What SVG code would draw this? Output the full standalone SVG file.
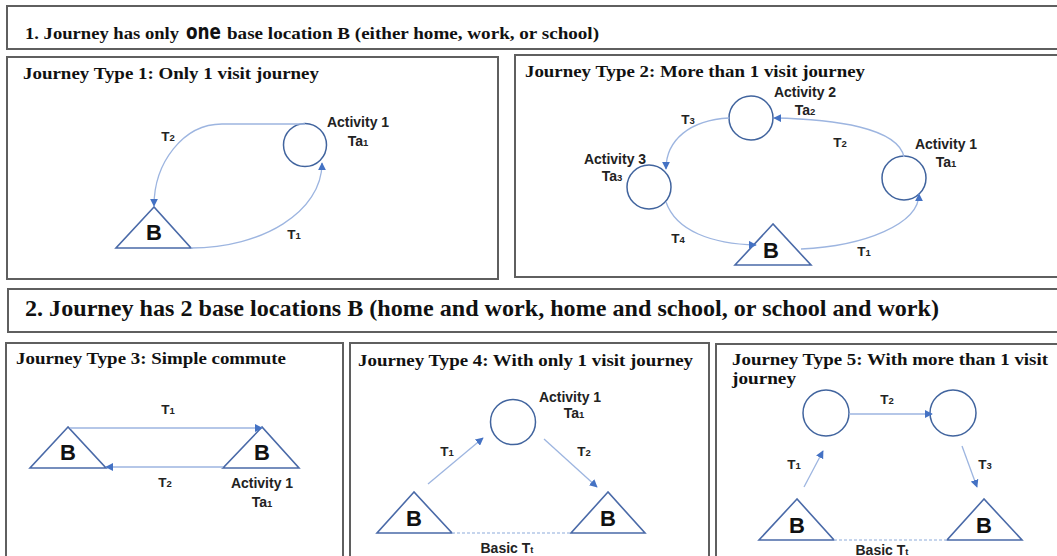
<svg xmlns="http://www.w3.org/2000/svg" width="1057" height="556" viewBox="0 0 1057 556">
  <style>
    .frame { fill: #ffffff; stroke: #5f5f5f; stroke-width: 2; }
    .title { font-family: "Liberation Serif", "Times New Roman", serif; font-weight: bold; fill: #111; }
    .lbl { font-family: "Liberation Sans", Arial, sans-serif; font-weight: bold; font-size: 13.5px; fill: #222; text-anchor: middle; }
    .act-lbl { font-size: 14px; }
    .sub { font-size: 9.5px; }
    .big { font-family: "Liberation Sans", Arial, sans-serif; font-weight: bold; font-size: 22px; fill: #111; text-anchor: middle; }
    .tri { fill: #ffffff; stroke: #4a6aa8; stroke-width: 1.6; }
    .act { fill: #ffffff; stroke: #41649e; stroke-width: 1.5; }
    .link { fill: none; stroke: #9db5e0; stroke-width: 1.3; marker-end: url(#ah); }
    .basic { fill: none; stroke: #b4c7e7; stroke-width: 1.3; stroke-dasharray: 3 2; }
  </style>
  <defs>
    <marker id="ah" viewBox="0 0 10 10" refX="9" refY="5" markerWidth="8" markerHeight="8" markerUnits="userSpaceOnUse" orient="auto">
      <path d="M0,0 L10,5 L0,10 z" fill="#4472c4"/>
    </marker>
  </defs>
  <rect width="1057" height="556" fill="#ffffff"/>

  <!-- Section 1 heading -->
  <g id="heading-1">
    <rect class="frame" x="7" y="6" width="1060" height="43"/>
    <text class="title" x="25" y="39" font-size="17" textLength="154" lengthAdjust="spacingAndGlyphs">1. Journey has only</text>
    <text x="186" y="39" font-family="'DejaVu Sans', sans-serif" font-weight="bold" font-size="21" fill="#111" textLength="35" lengthAdjust="spacingAndGlyphs">one</text>
    <text class="title" x="227" y="39" font-size="17" textLength="372" lengthAdjust="spacingAndGlyphs">base location B (either home, work, or school)</text>
  </g>

  <!-- Journey type 1 -->
  <g id="type-1">
    <rect class="frame" x="7" y="57" width="491" height="222"/>
    <text class="title" x="23" y="79" font-size="17" textLength="296" lengthAdjust="spacingAndGlyphs">Journey Type 1: Only 1 visit journey</text>
  </g>
  <g id="t1-base">
    <polygon class="tri" points="154,207 116,248 191,248"/>
    <text class="big" x="154" y="240">B</text>
  </g>
  <g id="t1-activity1">
    <circle class="act" cx="305" cy="145" r="21.5"/>
    <text class="lbl act-lbl" x="358" y="127">Activity 1</text>
    <text class="lbl act-lbl" x="358" y="146">Ta<tspan class="sub">1</tspan></text>
  </g>

  <!-- Journey type 2 -->
  <g id="type-2">
    <rect class="frame" x="515" y="55" width="560" height="222"/>
    <text class="title" x="525" y="77" font-size="17" textLength="340" lengthAdjust="spacingAndGlyphs">Journey Type 2: More than 1 visit journey</text>
  </g>
  <g id="t2-base">
    <polygon class="tri" points="773,224 735,265 811,265"/>
    <text class="big" x="771" y="258">B</text>
  </g>
  <g id="t2-activity1">
    <circle class="act" cx="904" cy="178" r="22"/>
    <text class="lbl act-lbl" x="946" y="149">Activity 1</text>
    <text class="lbl act-lbl" x="946" y="167">Ta<tspan class="sub">1</tspan></text>
  </g>
  <g id="t2-activity2">
    <circle class="act" cx="751" cy="118" r="22"/>
    <text class="lbl act-lbl" x="805" y="97">Activity 2</text>
    <text class="lbl act-lbl" x="805" y="115">Ta<tspan class="sub">2</tspan></text>
  </g>
  <g id="t2-activity3">
    <circle class="act" cx="649" cy="187" r="22"/>
    <text class="lbl act-lbl" x="615" y="164">Activity 3</text>
    <text class="lbl act-lbl" x="612" y="181">Ta<tspan class="sub">3</tspan></text>
  </g>

  <!-- Section 2 heading -->
  <g id="heading-2">
    <rect class="frame" x="8" y="289" width="1060" height="43"/>
    <text class="title" x="25" y="316" font-size="24" textLength="914" lengthAdjust="spacingAndGlyphs">2. Journey has 2 base locations B (home and work, home and school, or school and work)</text>
  </g>

  <!-- Journey type 3 -->
  <g id="type-3">
    <rect class="frame" x="6" y="343" width="337" height="230"/>
    <text class="title" x="16" y="364" font-size="17" textLength="270" lengthAdjust="spacingAndGlyphs">Journey Type 3: Simple commute</text>
  </g>
  <g id="t3-base-a">
    <polygon class="tri" points="68,427 30,468 106,468"/>
    <text class="big" x="68" y="460">B</text>
  </g>
  <g id="t3-base-b">
    <polygon class="tri" points="262,427 223,468 299,468"/>
    <text class="big" x="262" y="460">B</text>
    <text class="lbl act-lbl" x="262" y="488">Activity 1</text>
    <text class="lbl act-lbl" x="262" y="507">Ta<tspan class="sub">1</tspan></text>
  </g>

  <!-- Journey type 4 -->
  <g id="type-4">
    <rect class="frame" x="350" y="343" width="359" height="230"/>
    <text class="title" x="358" y="366" font-size="17" textLength="335" lengthAdjust="spacingAndGlyphs">Journey Type 4: With only 1 visit journey</text>
  </g>
  <g id="t4-activity1">
    <circle class="act" cx="513" cy="422" r="22.5"/>
    <text class="lbl act-lbl" x="570" y="402">Activity 1</text>
    <text class="lbl act-lbl" x="574" y="418">Ta<tspan class="sub">1</tspan></text>
  </g>
  <g id="t4-base-a">
    <polygon class="tri" points="414,492 377,533 452,533"/>
    <text class="big" x="414" y="526">B</text>
  </g>
  <g id="t4-base-b">
    <polygon class="tri" points="608,492 571,533 645,533"/>
    <text class="big" x="608" y="526">B</text>
  </g>

  <!-- Journey type 5 -->
  <g id="type-5">
    <rect class="frame" x="716" y="344" width="360" height="230"/>
    <text class="title" x="732" y="365" font-size="17" textLength="316" lengthAdjust="spacingAndGlyphs">Journey Type 5: With more than 1 visit</text>
    <text class="title" x="732" y="384" font-size="17" textLength="64" lengthAdjust="spacingAndGlyphs">journey</text>
  </g>
  <g id="t5-activity1">
    <circle class="act" cx="826" cy="413" r="23"/>
  </g>
  <g id="t5-activity2">
    <circle class="act" cx="953" cy="413" r="23"/>
  </g>
  <g id="t5-base-a">
    <polygon class="tri" points="797,499 759,540 834,540"/>
    <text class="big" x="797" y="533">B</text>
  </g>
  <g id="t5-base-b">
    <polygon class="tri" points="984,499 947,540 1022,540"/>
    <text class="big" x="984" y="533">B</text>
  </g>

  <!-- Trips between locations -->
  <g id="connectors">
    <!-- type 1 -->
    <path class="link" d="M305,124 H222 C183,124 154,163 154,206"/>
    <text class="lbl" x="168" y="141">T<tspan class="sub">2</tspan></text>
    <path class="link" d="M191,248 C262,248 322,212 322,163"/>
    <text class="lbl" x="294" y="239">T<tspan class="sub">1</tspan></text>

    <!-- type 2 -->
    <path class="link" d="M801,249 C865,246 919,224 919,194"/>
    <text class="lbl" x="864" y="256">T<tspan class="sub">1</tspan></text>
    <path class="link" d="M904,157 C898,128 835,119 774,118"/>
    <text class="lbl" x="840" y="147">T<tspan class="sub">2</tspan></text>
    <path class="link" d="M729,118 C690,120 666,140 666,169"/>
    <text class="lbl" x="688" y="124">T<tspan class="sub">3</tspan></text>
    <path class="link" d="M666,202 C676,231 712,244 756,245"/>
    <text class="lbl" x="678" y="243">T<tspan class="sub">4</tspan></text>

    <!-- type 3 -->
    <path class="link" d="M70,428 H262"/>
    <text class="lbl" x="168" y="414">T<tspan class="sub">1</tspan></text>
    <path class="link" d="M223,467 H106"/>
    <text class="lbl" x="165" y="487">T<tspan class="sub">2</tspan></text>

    <!-- type 4 -->
    <path class="link" d="M428,484 L483,438"/>
    <text class="lbl" x="447" y="456">T<tspan class="sub">1</tspan></text>
    <path class="link" d="M544,439 L597,487"/>
    <text class="lbl" x="584" y="456">T<tspan class="sub">2</tspan></text>
    <path class="basic" d="M452,533 H571"/>
    <text class="lbl act-lbl" x="507" y="553">Basic T<tspan class="sub">t</tspan></text>

    <!-- type 5 -->
    <path class="link" d="M849,414 H932"/>
    <text class="lbl" x="887" y="404">T<tspan class="sub">2</tspan></text>
    <path class="link" d="M804,487 L823,451"/>
    <text class="lbl" x="794" y="469">T<tspan class="sub">1</tspan></text>
    <path class="link" d="M962,446 L977,487"/>
    <text class="lbl" x="985" y="469">T<tspan class="sub">3</tspan></text>
    <path class="basic" d="M834,540 H947"/>
    <text class="lbl act-lbl" x="882" y="555">Basic T<tspan class="sub">t</tspan></text>
  </g>
</svg>
